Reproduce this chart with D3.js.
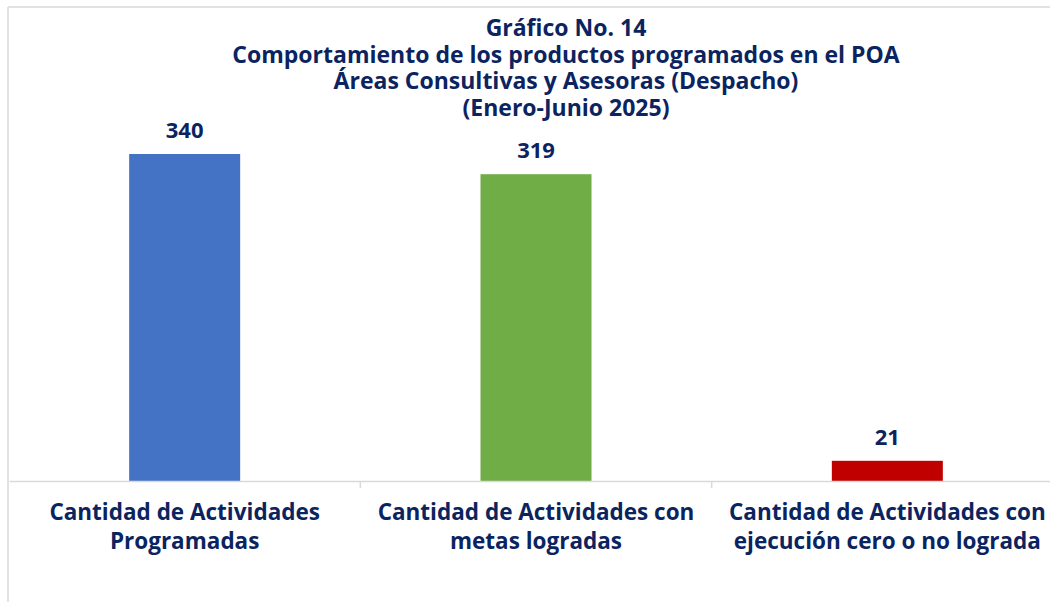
<!DOCTYPE html>
<html>
<head>
<meta charset="utf-8">
<script src="https://cdn.jsdelivr.net/npm/d3@7"></script>
<style>
  body { margin: 0; background: #fff; }
  svg { display: block; }
  text { font-family: "Open Sans", Lato, sans-serif; font-weight: bold; fill: #0b2460; }
</style>
</head>
<body>
<svg id="chart" width="1050" height="602"></svg>
<script>
const categories = [
    ["Cantidad de Actividades", "Programadas"],
    ["Cantidad de Actividades con", "metas logradas"],
    ["Cantidad de Actividades con", "ejecución cero o no lograda"]
];
const values = [340, 319, 21];
const barColors = ["#4472C4", "#70AD47", "#C00000"];
const titleLines = [
    "Gráfico No. 14",
    "Comportamiento de los productos programados en el POA",
    "Áreas Consultivas y Asesoras (Despacho)",
    "(Enero-Junio 2025)"
];

const svg = d3.select("#chart");

// frame (the picture is cropped: only left and top borders show)
svg.append("line").attr("x1", 8).attr("x2", 8).attr("y1", 7).attr("y2", 602)
    .attr("stroke", "#d9d9d9").attr("stroke-width", 1.5);
svg.append("line").attr("x1", 8).attr("x2", 1050).attr("y1", 7).attr("y2", 7)
    .attr("stroke", "#d9d9d9").attr("stroke-width", 1.5);

const idx = categories.map((d, i) => i);
const x = d3.scaleBand().domain(idx).range([9, 1063]).paddingInner(0).paddingOuter(0);
const y = d3.scaleLinear().domain([0, 340]).range([481, 154]);
const barW = 111;

const g = svg.append("g");

g.selectAll("rect.bar").data(values).enter().append("rect").attr("class", "bar")
    .attr("x", (d, i) => x(i) + x.bandwidth() / 2 - barW / 2)
    .attr("width", barW)
    .attr("y", d => y(d))
    .attr("height", d => y(0) - y(d))
    .attr("fill", (d, i) => barColors[i]);

g.selectAll("text.val").data(values).enter().append("text").attr("class", "val")
    .attr("x", (d, i) => x(i) + x.bandwidth() / 2)
    .attr("y", d => y(d) - 16)
    .attr("text-anchor", "middle")
    .style("font-size", "22px")
    .text(d => d);

// category axis
const axis = g.append("g").attr("transform", `translate(0,${y(0)})`)
    .call(d3.axisBottom(x).tickSize(0).tickFormat(""));
axis.select(".domain").attr("stroke", "#d9d9d9").attr("stroke-width", 1.5);
axis.selectAll(".tick").remove();
[1, 2].forEach(i => {
    axis.append("line").attr("x1", x(i)).attr("x2", x(i)).attr("y1", 0).attr("y2", 7)
        .attr("stroke", "#d9d9d9").attr("stroke-width", 1.5);
});

const labels = g.selectAll("text.cat").data(categories).enter().append("text").attr("class", "cat")
    .attr("text-anchor", "middle")
    .style("font-size", "22.5px");
labels.selectAll("tspan").data((d, i) => d.map(s => ({ s, i }))).enter().append("tspan")
    .attr("x", d => x(d.i) + x.bandwidth() / 2)
    .attr("y", (d, j) => 520 + j * 28.5)
    .text(d => d.s);

// title
svg.append("text").attr("text-anchor", "middle").style("font-size", "23px")
    .selectAll("tspan").data(titleLines).enter().append("tspan")
    .attr("x", 566)
    .attr("y", (d, i) => 36 + i * 26.5)
    .text(d => d);
</script>
</body>
</html>
